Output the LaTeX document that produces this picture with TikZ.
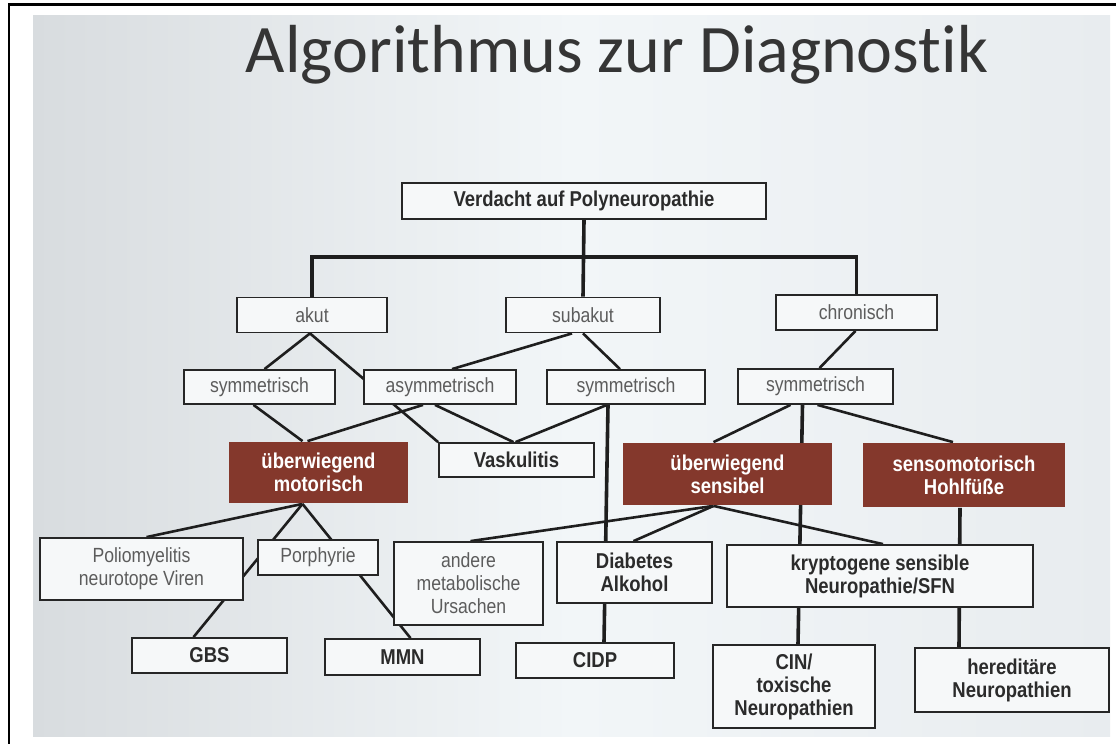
\documentclass[tikz,border=0pt]{standalone}
\usepackage{fontspec}
\setmainfont{Carlito}[Ligatures=NoCommon]
\newfontfamily\boxfont[FakeStretch=0.86]{Liberation Sans}
\usepackage{tikz}
\pgfdeclarelayer{bglayer}
\pgfdeclarelayer{nodelayer}
\pgfdeclarelayer{edgelayer}
\pgfsetlayers{bglayer,edgelayer,nodelayer,main}
\definecolor{darkred}{HTML}{84382C}
\definecolor{plaintext}{HTML}{5C5C5C}
\definecolor{strongtext}{HTML}{2B2B2B}
\definecolor{boxline}{HTML}{262626}
\definecolor{edgecol}{HTML}{1E1E1E}
\definecolor{boxfill}{HTML}{F6F8F9}
\definecolor{titlecol}{HTML}{353535}
\definecolor{slideleft}{HTML}{D8DCDF}
\definecolor{slidemid}{HTML}{F2F6F8}
\definecolor{slideright}{HTML}{E8ECEF}
\tikzset{
    plain/.style = {draw=boxline, line width=1.8pt, fill=boxfill, text=plaintext,
      font=\boxfont\fontsize{20.5}{23}\selectfont, align=center, inner sep=0pt},
    strong/.style = {plain, text=strongtext, font=\boxfont\bfseries\fontsize{21.5}{23}\selectfont},
    dark/.style = {strong, draw=none, fill=darkred, text=white},
    edge/.style = {draw=edgecol, line width=2.6pt},
    heavy/.style = {draw=edgecol, line width=3.6pt}
}

\begin{document}
\begin{tikzpicture}[x=1pt, y=-1pt]
  \useasboundingbox (0,0) rectangle (1116,744);
  \begin{pgfonlayer}{bglayer}
    \fill [white] (0,0) rectangle (1116,744);
    \shade [left color=slideleft, right color=slideright, middle color=slidemid] (33,15) rectangle (1110,736);
    \draw [line width=2.4pt] (9,744) -- (9,4.5) -- (1116,4.5);
  \end{pgfonlayer}
  \begin{pgfonlayer}{nodelayer}
    \node [anchor=base, text=titlecol, font=\fontsize{68}{72}\selectfont] (title) at (617, 72) {Algorithmus zur Diagnostik};
    \node [style=strong, minimum width=364pt, minimum height=36pt] (0) at (584, 201) {Verdacht auf Polyneuropathie};
    \node [style=plain, minimum width=150pt, minimum height=35pt] (1) at (312, 315) {akut};
    \node [style=plain, minimum width=154pt, minimum height=35pt] (2) at (583, 315) {subakut};
    \node [style=plain, minimum width=161pt, minimum height=35pt] (3) at (856.5, 312.5) {chronisch};
    \node [style=plain, minimum width=151pt, minimum height=34pt] (4) at (259.5, 387) {symmetrisch};
    \node [style=plain, minimum width=152pt, minimum height=34pt] (5) at (440, 387) {asymmetrisch};
    \node [style=plain, minimum width=158pt, minimum height=34pt] (6) at (626, 387) {symmetrisch};
    \node [style=plain, minimum width=155pt, minimum height=35pt] (7) at (815.5, 386.5) {symmetrisch};
    \node [style=dark, minimum width=179pt, minimum height=61pt] (8) at (318.5, 472.5) {überwiegend\\motorisch};
    \node [style=strong, minimum width=155pt, minimum height=34pt] (9) at (516.5, 460) {Vaskulitis};
    \node [style=dark, minimum width=209pt, minimum height=62pt] (10) at (727.5, 474) {überwiegend\\sensibel};
    \node [style=dark, minimum width=202pt, minimum height=64pt] (11) at (964, 475) {sensomotorisch\\Hohlfüße};
    \node [style=plain, minimum width=203pt, minimum height=62pt] (12) at (141.5, 569) {Poliomyelitis\\neurotope Viren};
    \node [style=plain, minimum width=120pt, minimum height=35pt] (13) at (318, 557.5) {Porphyrie};
    \node [style=plain, minimum width=149pt, minimum height=83pt] (14) at (468.5, 583.5) {andere\\metabolische\\Ursachen};
    \node [style=strong, minimum width=155pt, minimum height=61pt] (15) at (634.5, 572.5) {Diabetes\\Alkohol};
    \node [style=strong, minimum width=306pt, minimum height=62pt] (16) at (880, 576) {kryptogene sensible\\Neuropathie/SFN};
    \node [style=strong, minimum width=155pt, minimum height=35pt] (17) at (209.5, 655.5) {GBS};
    \node [style=strong, minimum width=155pt, minimum height=36pt] (18) at (402.5, 657) {MMN};
    \node [style=strong, minimum width=158pt, minimum height=35pt] (19) at (595, 660.5) {CIDP};
    \node [style=strong, minimum width=162pt, minimum height=83pt] (20) at (794, 686.5) {CIN/\\toxische\\Neuropathien};
    \node [style=strong, minimum width=194pt, minimum height=64pt] (21) at (1012, 680) {hereditäre\\Neuropathien};
  \end{pgfonlayer}
  \begin{pgfonlayer}{edgelayer}
    \coordinate (bar) at (584, 257);
    \draw [style=heavy] (0.south) to (2.north);
    \draw [style=heavy] (1.north) |- (bar) -| (3.north);
    \draw [style=edge] ([xshift=-2pt]1.south) to ([xshift=5pt]4.north);
    \draw [style=edge] ([xshift=-2pt]1.south) to (9.north west);
    \draw [style=edge] ([xshift=-11pt]2.south) to ([xshift=12pt]5.north);
    \draw [style=edge] ([xshift=0pt]2.south) to ([xshift=-6pt]6.north);
    \draw [style=edge] ([xshift=-1pt]3.south) to ([xshift=4pt]7.north);
    \draw [style=edge] ([xshift=-6pt]4.south) to ([xshift=-16pt]8.north);
    \draw [style=edge] ([xshift=-17pt]5.south) to ([xshift=-11pt]8.north);
    \draw [style=edge] ([xshift=-5pt]5.south) to ([xshift=-3pt]9.north);
    \draw [style=edge] ([xshift=-19pt]6.south) to ([xshift=-1pt]9.north);
    \draw [style=heavy] ([xshift=-18pt]6.south) to ([xshift=9pt]19.north);
    \draw [style=edge] ([xshift=-25pt]7.south) to ([xshift=-14pt]10.north);
    \draw [style=heavy] ([xshift=-13pt]7.south) to ([xshift=4pt]20.north);
    \draw [style=edge] ([xshift=2pt]7.south) to ([xshift=-11pt]11.north);
    \draw [style=edge] ([xshift=-16pt]8.south) to ([xshift=5pt]12.north);
    \draw [style=edge] ([xshift=-16pt]8.south) to ([xshift=-16pt]17.north);
    \draw [style=edge] ([xshift=-16pt]8.south) to ([xshift=8pt]18.north);
    \draw [style=edge] ([xshift=-14pt]10.south) to ([xshift=2pt]14.north);
    \draw [style=edge] ([xshift=-14pt]10.south) to ([xshift=-1pt]15.north);
    \draw [style=edge] ([xshift=-14pt]10.south) to ([xshift=3pt]16.north);
    \draw [style=heavy] ([xshift=-4pt]11.south) to ([xshift=-53pt]21.north);
  \end{pgfonlayer}
\end{tikzpicture}
\end{document}
